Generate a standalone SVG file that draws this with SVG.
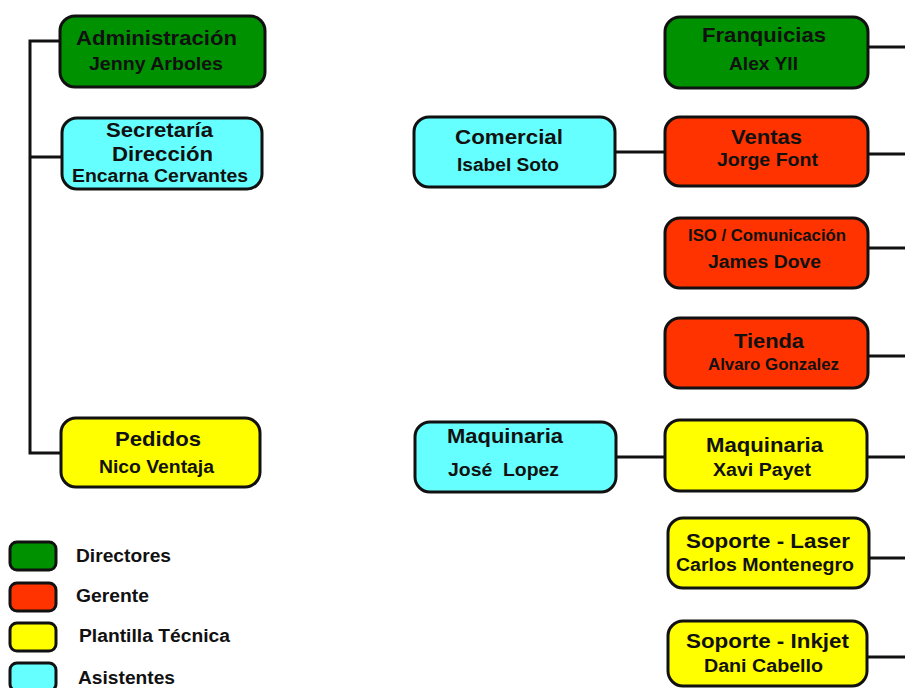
<svg xmlns="http://www.w3.org/2000/svg" width="905" height="688" viewBox="0 0 905 688">
<style>
.b{stroke:#111;stroke-width:3}
.g{fill:#009100}.r{fill:#FF3300}.y{fill:#FFFF00}.c{fill:#66FFFF}
text{font-family:"Liberation Sans",Arial,sans-serif;font-weight:bold;fill:#111}
.t{font-size:21px}.n{font-size:18px}.s{font-size:16px}.l{font-size:18px}
.ln{fill:none;stroke:#111;stroke-width:3}
</style>
<rect width="905" height="688" fill="#fff"/>
<g id="connectors">
<path class="ln" d="M60,41 H30 V453 H61 M30,157 H62"/>
<path class="ln" d="M868,47 H905 M615,152 H665 M868,154 H905 M868,248 H905 M868,356 H905 M616,457 H665 M867,457 H905 M869,558 H905 M867,657 H905"/>
</g>
<g id="administracion"><rect class="b g" x="60" y="16" width="205" height="71" rx="15"/>
<text class="t" x="76" y="45" textLength="161" lengthAdjust="spacingAndGlyphs">Administración</text>
<text class="n" x="89" y="70" textLength="134" lengthAdjust="spacingAndGlyphs">Jenny Arboles</text></g>
<g id="secretaria"><rect class="b c" x="62" y="118" width="200" height="71" rx="15"/>
<text class="t" x="106" y="137" textLength="107" lengthAdjust="spacingAndGlyphs">Secretaría</text>
<text class="t" x="112" y="161" textLength="101" lengthAdjust="spacingAndGlyphs">Dirección</text>
<text class="n" x="72" y="182" textLength="176" lengthAdjust="spacingAndGlyphs">Encarna Cervantes</text></g>
<g id="pedidos"><rect class="b y" x="61" y="418" width="199" height="69" rx="15"/>
<text class="t" x="115" y="446" textLength="86" lengthAdjust="spacingAndGlyphs">Pedidos</text>
<text class="n" x="99" y="473" textLength="115" lengthAdjust="spacingAndGlyphs">Nico Ventaja</text></g>
<g id="franquicias"><rect class="b g" x="665" y="17" width="203" height="71" rx="15"/>
<text class="t" x="702" y="42" textLength="124" lengthAdjust="spacingAndGlyphs">Franquicias</text>
<text class="n" x="729" y="70" textLength="69" lengthAdjust="spacingAndGlyphs">Alex YII</text></g>
<g id="comercial"><rect class="b c" x="414" y="117" width="201" height="70" rx="15"/>
<text class="t" x="455" y="144" textLength="108" lengthAdjust="spacingAndGlyphs">Comercial</text>
<text class="n" x="457" y="171" textLength="102" lengthAdjust="spacingAndGlyphs">Isabel Soto</text></g>
<g id="ventas"><rect class="b r" x="665" y="117" width="203" height="69" rx="15"/>
<text class="t" x="731" y="144" textLength="71" lengthAdjust="spacingAndGlyphs">Ventas</text>
<text class="n" x="717" y="166" textLength="101" lengthAdjust="spacingAndGlyphs">Jorge Font</text></g>
<g id="iso"><rect class="b r" x="665" y="218" width="203" height="70" rx="15"/>
<text class="s" x="688" y="241" textLength="158" lengthAdjust="spacingAndGlyphs">ISO / Comunicación</text>
<text class="n" x="708" y="268" textLength="113" lengthAdjust="spacingAndGlyphs">James Dove</text></g>
<g id="tienda"><rect class="b r" x="665" y="318" width="203" height="70" rx="15"/>
<text class="t" x="734" y="348" textLength="70" lengthAdjust="spacingAndGlyphs">Tienda</text>
<text class="s" x="708" y="370" textLength="131" lengthAdjust="spacingAndGlyphs">Alvaro Gonzalez</text></g>
<g id="maquinaria-asist"><rect class="b c" x="415" y="422" width="201" height="70" rx="15"/>
<text class="t" x="447" y="443" textLength="116" lengthAdjust="spacingAndGlyphs">Maquinaria</text>
<text class="n" x="448" y="476" textLength="111" lengthAdjust="spacingAndGlyphs" xml:space="preserve">José  Lopez</text></g>
<g id="maquinaria"><rect class="b y" x="665" y="420" width="202" height="71" rx="15"/>
<text class="t" x="706" y="452" textLength="117" lengthAdjust="spacingAndGlyphs">Maquinaria</text>
<text class="n" x="713" y="476" textLength="98" lengthAdjust="spacingAndGlyphs">Xavi Payet</text></g>
<g id="soporte-laser"><rect class="b y" x="668" y="518" width="201" height="70" rx="15"/>
<text class="t" x="686" y="548" textLength="164" lengthAdjust="spacingAndGlyphs">Soporte - Laser</text>
<text class="n" x="676" y="571" textLength="178" lengthAdjust="spacingAndGlyphs">Carlos Montenegro</text></g>
<g id="soporte-inkjet"><rect class="b y" x="668" y="621" width="199" height="65" rx="15"/>
<text class="t" x="686" y="648" textLength="163" lengthAdjust="spacingAndGlyphs">Soporte - Inkjet</text>
<text class="n" x="704" y="672" textLength="119" lengthAdjust="spacingAndGlyphs">Dani Cabello</text></g>
<g id="legend">
<rect class="b g" x="10" y="542" width="46" height="28" rx="7"/>
<text class="l" x="76" y="562" textLength="95" lengthAdjust="spacingAndGlyphs">Directores</text>
<rect class="b r" x="10" y="583" width="46" height="28" rx="7"/>
<text class="l" x="76" y="602" textLength="73" lengthAdjust="spacingAndGlyphs">Gerente</text>
<rect class="b y" x="10" y="623" width="46" height="28" rx="7"/>
<text class="l" x="79" y="642" textLength="151" lengthAdjust="spacingAndGlyphs">Plantilla Técnica</text>
<rect class="b c" x="10" y="663" width="46" height="28" rx="7"/>
<text class="l" x="78" y="684" textLength="97" lengthAdjust="spacingAndGlyphs">Asistentes</text>
</g>
</svg>
